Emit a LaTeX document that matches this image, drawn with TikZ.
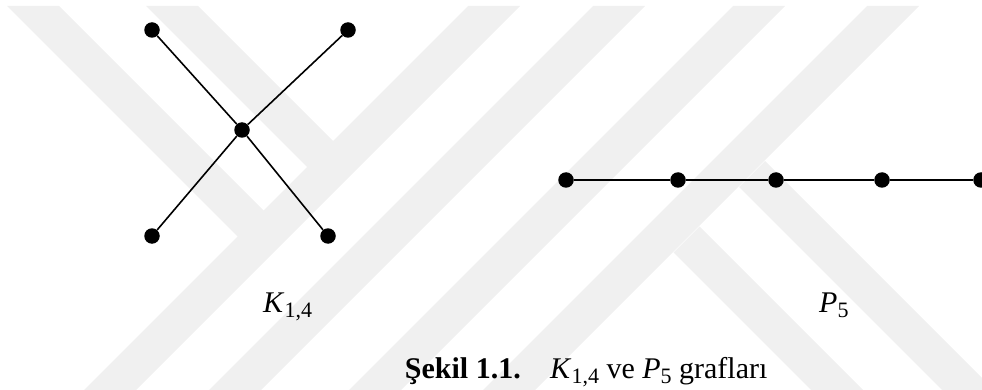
\documentclass[tikz,border=0pt]{standalone}
\usepackage{fontspec}
\setmainfont{Liberation Serif}
\newcommand{\isub}[2]{\textit{#1}\raisebox{-0.17em}{\fontsize{22}{24}\selectfont #2}}
\begin{document}
\begin{tikzpicture}[x=1pt,y=-1pt,
  vtx/.style={circle,fill=black,inner sep=0pt,minimum size=15.5pt},
  edge/.style={line width=1.6pt},
  wm/.style={fill=black!6,draw=none},
  lbl/.style={inner sep=0pt,font=\fontsize{30}{32}\selectfont}]
\useasboundingbox (0,0) rectangle (982,390);
% watermark
\foreach \a in {468,593,733,867}{
  \fill[wm] (\a,6) -- (\a+52,6) -- (\a+52-384,390) -- (\a-384,390) -- cycle;
}
\fill[wm] (7,6) -- (59,6) -- (264,211) -- (238,237) -- cycle;
\fill[wm] (146,6) -- (198,6) -- (333.5,141.5) -- (307.5,167.5) -- cycle;
\fill[wm] (765,161) -- (1065,461) -- (1039,487) -- (739,187) -- cycle;
\fill[wm] (699.5,226.5) -- (999.5,526.5) -- (973.5,552.5) -- (673.5,252.5) -- cycle;
% K_{1,4}
\node[vtx] (c) at (242,130) {};
\node[vtx] (tl) at (152,30) {};
\node[vtx] (tr) at (348,30) {};
\node[vtx] (bl) at (152,236) {};
\node[vtx] (br) at (328,236) {};
\draw[edge] (c) -- (tl);
\draw[edge] (c) -- (tr);
\draw[edge] (c) -- (bl);
\draw[edge] (c) -- (br);
% P_5
\node[vtx] (p1) at (566,180) {};
\node[vtx] (p2) at (678,180) {};
\node[vtx] (p3) at (776,180) {};
\node[vtx] (p4) at (882,180) {};
\node[vtx] (p5) at (981,180) {};
\draw[edge] (p1) -- (p2) -- (p3) -- (p4) -- (p5);
% labels
\node[lbl,anchor=base west] (lk) at (263,312) {\isub{K}{1,4}};
\node[lbl,anchor=base west] (lp) at (819,312) {\isub{P}{5}};
\node[lbl,anchor=base east] (capa) at (521,378) {\textbf{Şekil 1.1.}};
\node[lbl,anchor=base west] (capb) at (550,378) {\isub{K}{1,4} ve \isub{P}{5} grafları};
\end{tikzpicture}
\end{document}
